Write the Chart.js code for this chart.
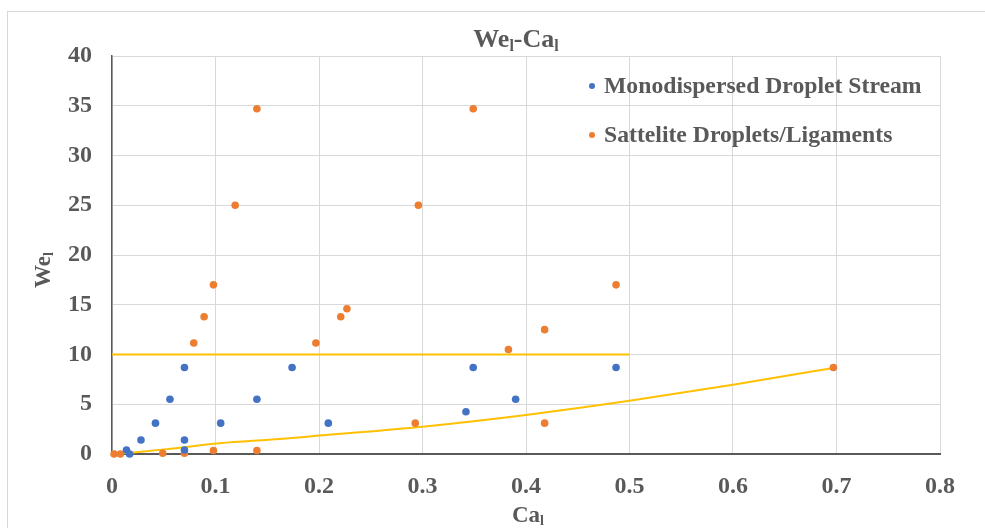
<!DOCTYPE html>
<html>
<head>
<meta charset="utf-8">
<script src="https://cdn.jsdelivr.net/npm/chart.js@4/dist/chart.umd.min.js"></script>
<style>
  html, body { margin: 0; padding: 0; background: #fff; }
  #wrap { width: 985px; height: 528px; }
</style>
</head>
<body>
<div id="wrap"><canvas id="chart" width="985" height="528"></canvas></div>
<script>
// Values
const monoCa = [0.014, 0.017, 0.028, 0.042, 0.056, 0.070, 0.070, 0.070, 0.105, 0.140, 0.174, 0.209, 0.342, 0.349, 0.390, 0.487];
const monoWe = [0.4, 0.0, 1.4, 3.1, 5.5, 8.7, 1.4, 0.4, 3.1, 5.5, 8.7, 3.1, 4.25, 8.7, 5.5, 8.7];

const satCa = [0.002, 0.008, 0.049, 0.070, 0.098, 0.140, 0.079, 0.089, 0.098, 0.119, 0.140, 0.197, 0.221, 0.227, 0.293, 0.296, 0.349, 0.383, 0.418, 0.418, 0.487, 0.697];
const satWe = [0.0, 0.0, 0.07, 0.07, 0.35, 0.35, 11.15, 13.8, 17.0, 25.0, 34.7, 11.15, 13.8, 14.6, 3.1, 25.0, 34.7, 10.5, 12.5, 3.1, 17.0, 8.7];

// horizontal limit line
const limitCa = [0, 0.5];
const limitWe = [10, 10];

// boundary curve, read at a few spots along the line
const curveCa = [0.005, 0.053, 0.104, 0.162, 0.2, 0.3, 0.4, 0.5, 0.6, 0.697];
const curveWe = [0.0, 0.49, 1.08, 1.5, 1.85, 2.75, 3.93, 5.35, 6.96, 8.65];

const seriesNames = ['Monodispersed Droplet Stream', 'Sattelite Droplets/Ligaments'];
const xTicks = [0, 0.1, 0.2, 0.3, 0.4, 0.5, 0.6, 0.7, 0.8];
const yTicks = [0, 5, 10, 15, 20, 25, 30, 35, 40];

// text pieces with subscripts
const titleParts = [['We', false], ['l', true], ['-Ca', false], ['l', true]];
const xTitleParts = [['Ca', false], ['l', true]];
const yTitleParts = [['We', false], ['l', true]];

const FONT = "'Liberation Serif', 'Times New Roman', serif";
const TEXT = '#595959';

const toPoints = (xs, ys) => xs.map((x, i) => ({ x, y: ys[i] }));

// draw a string made of normal and subscript pieces, centred on x
function drawParts(ctx, parts, x, y, size) {
  const big = `bold ${size}px ${FONT}`;
  const small = `bold ${Math.round(size * 0.62)}px ${FONT}`;
  let w = 0;
  parts.forEach(([t, sub]) => { ctx.font = sub ? small : big; w += ctx.measureText(t).width; });
  let cx = x - w / 2;
  ctx.textBaseline = 'alphabetic';
  ctx.textAlign = 'left';
  parts.forEach(([t, sub]) => {
    ctx.font = sub ? small : big;
    ctx.fillText(t, cx, sub ? y + size * 0.14 : y);
    cx += ctx.measureText(t).width;
  });
}

const decorPlugin = {
  id: 'decor',
  beforeDraw(chart) {
    const ctx = chart.ctx;
    ctx.save();
    ctx.strokeStyle = '#d9d9d9';
    ctx.lineWidth = 1;
    ctx.strokeRect(7.5, 11.5, 1100, 700);
    ctx.restore();
  },
  afterDraw(chart) {
    const ctx = chart.ctx;
    ctx.save();
    ctx.fillStyle = TEXT;
    drawParts(ctx, titleParts, 516, 47, 26);
    drawParts(ctx, xTitleParts, 528, 522, 23);
    ctx.translate(50, 270);
    ctx.rotate(-Math.PI / 2);
    drawParts(ctx, yTitleParts, 0, 0, 23);
    ctx.restore();

    // legend inside the plot, top right
    ctx.save();
    const lx = 592, ly = [86, 135];
    seriesNames.forEach((name, i) => {
      const ds = chart.data.datasets[i];
      ctx.fillStyle = ds.backgroundColor;
      ctx.beginPath();
      ctx.arc(lx, ly[i], 3, 0, Math.PI * 2);
      ctx.fill();
      ctx.fillStyle = TEXT;
      ctx.font = `bold 23.7px ${FONT}`;
      ctx.textBaseline = 'middle';
      ctx.textAlign = 'left';
      ctx.fillText(name, lx + 12, ly[i] + 1);
    });
    ctx.restore();
  }
};

new Chart(document.getElementById('chart'), {
  type: 'scatter',
  data: {
    datasets: [
      {
        label: seriesNames[0],
        data: toPoints(monoCa, monoWe),
        backgroundColor: '#4472C4',
        borderColor: '#4472C4',
        pointRadius: 3.8,
        borderWidth: 0,
        clip: false
      },
      {
        label: seriesNames[1],
        data: toPoints(satCa, satWe),
        backgroundColor: '#ED7D31',
        borderColor: '#ED7D31',
        pointRadius: 3.8,
        borderWidth: 0,
        clip: false
      },
      {
        label: 'limit',
        type: 'line',
        data: toPoints(limitCa, limitWe),
        borderColor: '#FFC000',
        borderWidth: 2,
        pointRadius: 0,
        fill: false
      },
      {
        label: 'boundary',
        type: 'line',
        data: toPoints(curveCa, curveWe),
        borderColor: '#FFC000',
        borderWidth: 2,
        pointRadius: 0,
        cubicInterpolationMode: 'monotone',
        fill: false
      }
    ]
  },
  options: {
    responsive: false,
    animation: false,
    layout: { padding: { left: 0, right: 45, top: 56, bottom: 0 } },
    plugins: {
      legend: { display: false },
      title: { display: false },
      tooltip: { enabled: false }
    },
    scales: {
      x: {
        type: 'linear',
        min: 0,
        max: 0.8,
        afterFit: (s) => { s.height = 74; },
        afterBuildTicks: (s) => { s.ticks = xTicks.map(v => ({ value: v })); },
        grid: { color: '#d9d9d9', lineWidth: 1, drawTicks: false },
        border: { color: '#595959', width: 2 },
        ticks: {
          padding: 18,
          color: TEXT,
          font: { family: FONT, size: 24, weight: 'bold' },
          callback: (v) => (v === 0 ? '0' : v.toFixed(1))
        }
      },
      y: {
        min: 0,
        max: 40,
        afterFit: (s) => { s.width = 112; },
        afterBuildTicks: (s) => { s.ticks = yTicks.map(v => ({ value: v })); },
        grid: { color: '#d9d9d9', lineWidth: 1, drawTicks: false },
        border: { color: '#595959', width: 1.5 },
        ticks: {
          padding: 20,
          color: TEXT,
          font: { family: FONT, size: 24, weight: 'bold' },
          callback: (v) => String(v)
        }
      }
    }
  },
  plugins: [decorPlugin]
});
</script>
</body>
</html>
